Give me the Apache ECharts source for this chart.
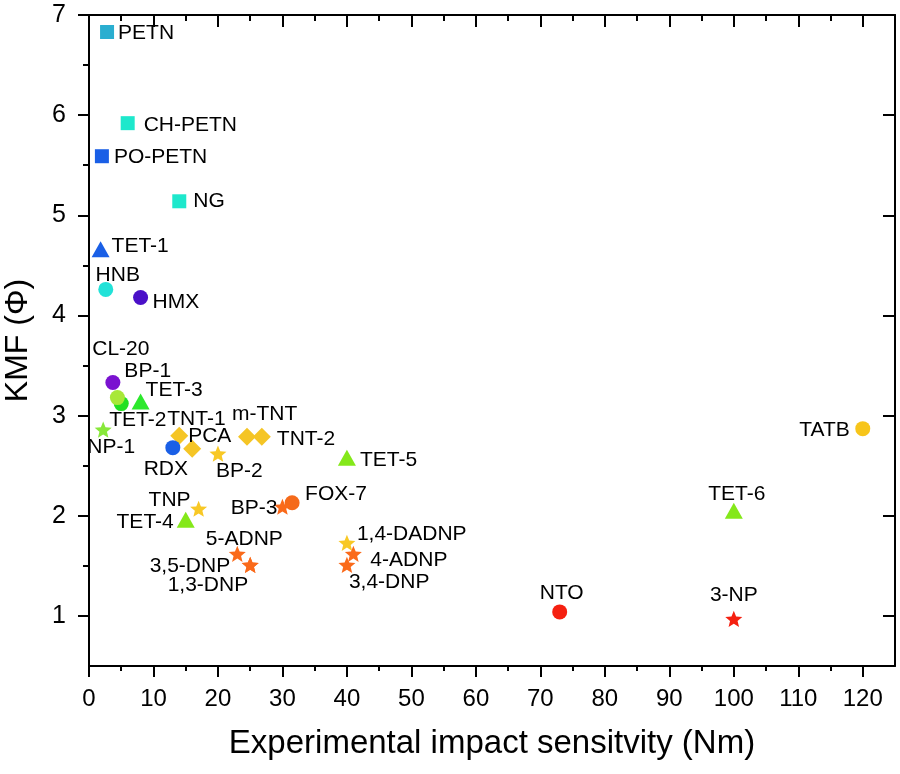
<!DOCTYPE html>
<html>
<head>
<meta charset="utf-8">
<script src="https://cdn.jsdelivr.net/npm/echarts@6/dist/echarts.min.js"></script>
<style>html,body{margin:0;padding:0;background:#fff}#c{width:900px;height:774px}</style>
</head>
<body>
<div id="c"></div>
<script>
// ---- data ----
const compounds = ['PETN','CH-PETN','PO-PETN','NG','TET-1','HNB','HMX','CL-20','TET-2','BP-1','TET-3','NP-1','TNT-1','PCA','RDX','BP-2','m-TNT','TNT-2','TET-5','TNP','TET-4','FOX-7','BP-3','5-ADNP','3,5-DNP','1,3-DNP','1,4-DADNP','4-ADNP','3,4-DNP','NTO','3-NP','TET-6','TATB'];
const impactSensitivity = [2.8, 6, 2, 14, 1.8, 2.6, 8, 3.7, 5, 4.4, 8, 2.2, 14, 16, 13, 20, 24.5, 26.8, 40, 17, 15, 31.5, 30, 23, 25, 25, 40, 41, 40, 73, 100, 100, 120];
const kmf = [6.83, 5.92, 5.59, 5.14, 4.66, 4.26, 4.18, 3.33, 3.12, 3.18, 3.14, 2.86, 2.80, 2.67, 2.68, 2.62, 2.79, 2.79, 2.58, 2.07, 1.96, 2.13, 2.09, 1.62, 1.51, 1.51, 1.73, 1.62, 1.51, 1.04, 0.97, 2.05, 2.87];
const markerType = ['square','square','square','square','triangle','circle','circle','circle','circle','circle','triangle','star','diamond','diamond','circle','star','diamond','diamond','triangle','star','triangle','circle','star','star','star','star','star','star','star','circle','star','triangle','circle'];
const xTickLabels = [0,10,20,30,40,50,60,70,80,90,100,110,120];
const xMinorTicks = [5,15,25,35,45,55,65,75,85,95,105,115];
const yTickLabels = [1,2,3,4,5,6,7];
const yMinorTicks = [1.5,2.5,3.5,4.5,5.5,6.5];

// ---- styles ----
const colorOf = {
  'PETN':'#2aaed0','CH-PETN':'#1ee8cc','PO-PETN':'#1a5fe6','NG':'#1ee8cc','TET-1':'#1a5fe6',
  'HNB':'#22e2d8','HMX':'#4a10c8','CL-20':'#7a12d0','TET-2':'#22e022','BP-1':'#a8e838',
  'TET-3':'#2ce82c','NP-1':'#88e83a','TNT-1':'#f5c525','PCA':'#f5c525','RDX':'#1a5fe6',
  'BP-2':'#f8c825','m-TNT':'#f5c525','TNT-2':'#f5c525','TET-5':'#84e81a','TNP':'#f8c825',
  'TET-4':'#84e81a','FOX-7':'#f56a1a','BP-3':'#fa6a1a','5-ADNP':'#fa6a1a','3,5-DNP':'#fa6a1a',
  '1,3-DNP':'#fa6a1a','1,4-DADNP':'#f8c825','4-ADNP':'#fa6a1a','3,4-DNP':'#fa6a1a',
  'NTO':'#f52010','3-NP':'#f52010','TET-6':'#84e81a','TATB':'#f7c51a'
};
const labelPlace = {
  'PETN':['left',11,1],'CH-PETN':['left',16,2],'PO-PETN':['left',12,1],'NG':['left',14,0],
  'TET-1':['left',11,-3],'HMX':['left',12,5],'BP-1':['left',7,-26],'TET-3':['left',5,-11],
  'TET-2':['left',-12,17],'TNT-1':['left',-12,-16],'PCA':['left',-4,-12],'BP-2':['left',-2,18],
  'm-TNT':['left',-15,-22],'TNT-2':['left',15,3],'TET-5':['left',13,3],'FOX-7':['left',13,-9],
  '1,4-DADNP':['left',10,-9],'4-ADNP':['left',17,6],'3,4-DNP':['left',2,17],
  '1,3-DNP':['right',-2,20],'TNP':['right',-8,-9],'TET-4':['right',-12,2],'BP-3':['right',-5,1],
  '3,5-DNP':['right',-20,1],'TATB':['right',-13,2],
  'HNB':['center',12,-14],'CL-20':['center',8,-33],'TET-6':['center',3,-17],'3-NP':['center',0,-24],
  'NTO':['center',2,-19],'5-ADNP':['center',7,-15],'NP-1':['center',8,18],'RDX':['center',-7,22]
};
const STAR = 'path://M0,-10L2.6,-3.6L9.51,-3.09L4.2,1.37L5.88,8.09L0,4.4L-5.88,8.09L-4.2,1.37L-9.51,-3.09L-2.6,-3.6Z';
const symbolOf = {
  square:{symbol:'rect', size:14},
  circle:{symbol:'circle', size:15},
  triangle:{symbol:'triangle', size:[18,16]},
  diamond:{symbol:'diamond', size:[18,18]},
  star:{symbol:STAR, size:17}
};
const FONT = 'Liberation Sans, Arial, sans-serif';

const points = compounds.map((n, i) => {
  const s = symbolOf[markerType[i]];
  const lp = labelPlace[n];
  return {
    name: n,
    value: [impactSensitivity[i], kmf[i]],
    symbol: s.symbol,
    symbolSize: s.size,
    symbolKeepAspect: true,
    itemStyle: { color: colorOf[n], opacity: 1 },
    label: {
      show: true, formatter: n, position: ['50%','50%'], offset: [lp[1], lp[2]],
      align: lp[0], verticalAlign: 'middle', fontSize: 21, color: '#000', fontFamily: FONT
    }
  };
});

const line = { show: true, onZero: false, lineStyle: { color: '#000', width: 2 } };
const tickStyle = { color: '#000', width: 2 };
function xAx(pos, values, len, inside, main) {
  return {
    type: 'value', position: pos, min: 0, max: 125,
    axisLine: main ? line : { show: false },
    axisTick: { show: true, customValues: values, length: len, inside: inside, lineStyle: tickStyle },
    axisLabel: { show: false },
    splitLine: { show: false }
  };
}
function yAx(pos, values, len, inside, main) {
  return {
    type: 'value', position: pos, min: 0.5, max: 7,
    axisLine: main ? line : { show: false },
    axisTick: { show: true, customValues: values, length: len, inside: inside, lineStyle: tickStyle },
    axisLabel: { show: false },
    splitLine: { show: false }
  };
}
const xMain = xAx('bottom', xTickLabels, 11, false, true);
xMain.axisLabel = { show: true, customValues: xTickLabels, margin: 21, fontSize: 24, color: '#000', fontFamily: FONT };
xMain.name = 'Experimental impact sensitvity (Nm)';
xMain.nameLocation = 'middle';
xMain.nameGap = 61;
xMain.nameTextStyle = { fontSize: 33, color: '#000', fontFamily: FONT };

const yMain = yAx('left', yTickLabels, 11, false, true);
yMain.axisLabel = { show: true, customValues: yTickLabels, margin: 23, fontSize: 25, color: '#000', fontFamily: FONT };
yMain.name = 'KMF (\u03A6)';
yMain.nameLocation = 'middle';
yMain.nameGap = 55;
yMain.nameTextStyle = { fontSize: 32, color: '#000', fontFamily: FONT };

const chart = echarts.init(document.getElementById('c'));
chart.setOption({
  animation: false,
  backgroundColor: '#fff',
  grid: { left: 89, right: 5, top: 15, bottom: 108, containLabel: false, outerBoundsMode: 'none' },
  xAxis: [
    xMain,
    xAx('bottom', xMinorTicks, 5, false, false),
    xAx('top', xTickLabels, 12, true, true),
    xAx('top', xMinorTicks, 6, true, false)
  ],
  yAxis: [
    yMain,
    yAx('left', yMinorTicks, 5, false, false),
    yAx('right', yTickLabels, 12, true, true),
    yAx('right', yMinorTicks, 6, true, false)
  ],
  series: [{
    type: 'scatter', xAxisIndex: 0, yAxisIndex: 0,
    data: points
  }]
});
</script>
</body>
</html>
